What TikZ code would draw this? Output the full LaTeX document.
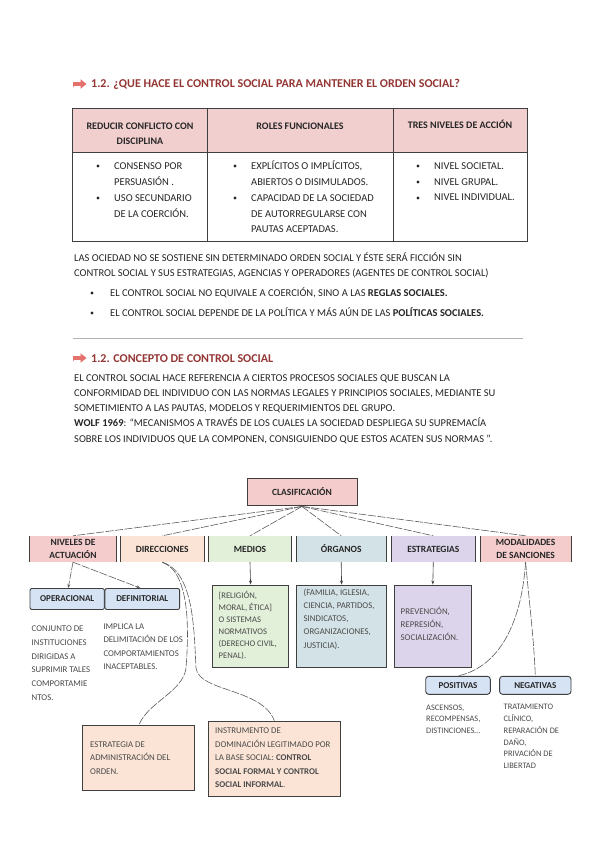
\documentclass[tikz,border=0pt]{standalone}
\usepackage{fontspec}
\setmainfont{Carlito}
\usetikzlibrary{arrows.meta,shadows}
\definecolor{titlered}{HTML}{943634}
\definecolor{arrowred}{HTML}{E4716C}
\definecolor{hdrpink}{HTML}{F2CFCF}
\definecolor{boxpink}{HTML}{F4CCCC}
\definecolor{peach}{HTML}{FBE4D5}
\definecolor{mint}{HTML}{E2EFD9}
\definecolor{steel}{HTML}{D3E2E6}
\definecolor{lav}{HTML}{DCD4EA}
\definecolor{skyb}{HTML}{D5E3F4}
\definecolor{ink}{HTML}{262626}
\definecolor{soft}{HTML}{4A4A4A}
\definecolor{edge}{HTML}{3F3F3F}
\newcommand\mlines[1]{\begin{tabular}[t]{@{}l@{}}#1\end{tabular}}
\newcommand\clines[1]{\begin{tabular}[t]{@{}c@{}}#1\end{tabular}}
\tikzset{
  txt/.style={anchor=base west, inner sep=0, text=ink},
  body/.style={txt, font=\fontsize{10.5}{15.7}\selectfont},
  small/.style={txt, text=soft, font=\fontsize{8.8}{13.3}\selectfont},
  cat/.style={minimum height=26pt, inner sep=0, font=\bfseries\fontsize{9.5}{12.5}\selectfont, align=center, text=ink},
  subbox/.style={draw=edge, line width=0.9pt, rounded corners=2pt, fill=skyb, minimum height=21pt, inner sep=0, font=\bfseries\fontsize{9}{10}\selectfont, text=ink},
  cbox/.style={draw=edge, line width=0.9pt, inner sep=0, minimum height=82pt},
  lowbox/.style={draw=edge, line width=0.7pt, fill=peach, inner sep=0},
  dlink/.style={draw=edge!85, line width=0.6pt, dash pattern=on 8pt off 1.5pt},
  tipped/.style={-{Stealth[length=4pt,width=3pt]}},
  slink/.style={draw=edge, line width=0.6pt},
  hdr/.style={anchor=base, inner sep=0, text=ink, font=\bfseries\fontsize{10}{15}\selectfont}
}
\begin{document}
\begin{tikzpicture}[x=1pt,y=-1pt]
\useasboundingbox (0,0) rectangle (600,848);
\fill[white] (0,0) rectangle (600,848);

% ---- title 1
\begin{scope}[shift={(73,84)}]
\fill[arrowred] (0,-1.8) -- (7.5,-1.8) -- (7.5,-4.8) -- (13.5,0) -- (7.5,4.8) -- (7.5,1.8) -- (2,1.8) .. controls (1,1.8) and (0,2.6) .. (0,3.6) -- cycle;
\end{scope}
\node[txt, font=\bfseries\fontsize{12}{14}\selectfont, text=titlered] (h1) at (91,88) {1.2. ¿QUE HACE EL CONTROL SOCIAL PARA MANTENER EL ORDEN SOCIAL?};

% ---- table
\fill[hdrpink] (72,108) rectangle (527,152);
\draw[edge, line width=0.8pt] (72,108) rectangle (527,241);
\draw[edge, line width=0.8pt] (72,152) -- (527,152) (207,108) -- (207,241) (393,108) -- (393,241);
\node[hdr] (th1) at (140,129.3) {\clines{REDUCIR CONFLICTO CON\\DISCIPLINA}};
\node[hdr] (th2) at (300,129.3) {ROLES FUNCIONALES};
\node[hdr] (th3) at (460,128.3) {TRES NIVELES DE ACCIÓN};

\foreach \p in {(98,166),(98,198),(235,166),(235,198),(418,166),(418,182),(418,198)}
  \fill[ink] \p circle (1.6pt);
\node[body] (b1) at (114,169.4) {\mlines{CONSENSO POR\\PERSUASIÓN .}};
\node[body] (b2) at (114,201.4) {\mlines{USO SECUNDARIO\\DE LA COERCIÓN.}};
\node[body] (b3) at (251,169.4) {\mlines{EXPLÍCITOS O IMPLÍCITOS,\\ABIERTOS O DISIMULADOS.}};
\node[body] (b4) at (251,201.4) {\mlines{CAPACIDAD DE LA SOCIEDAD\\DE AUTORREGULARSE CON\\PAUTAS ACEPTADAS.}};
\node[body] (b5) at (434,169.4) {\mlines{NIVEL SOCIETAL.\\NIVEL GRUPAL.\\NIVEL INDIVIDUAL.}};

% ---- paragraph 1
\node[body] (p1) at (74,261.4) {LAS OCIEDAD NO SE SOSTIENE SIN DETERMINADO ORDEN SOCIAL Y ÉSTE SERÁ FICCIÓN SIN};
\node[body] (p2) at (74,276.4) {CONTROL SOCIAL Y SUS ESTRATEGIAS, AGENCIAS Y OPERADORES (AGENTES DE CONTROL SOCIAL)};
\fill[ink] (92,293) circle (1.6pt);
\fill[ink] (92,313) circle (1.6pt);
\node[body] (p3) at (110,296.4) {EL CONTROL SOCIAL NO EQUIVALE A COERCIÓN, SINO A LAS \textbf{REGLAS SOCIALES.}};
\node[body] (p4) at (110,316.4) {EL CONTROL SOCIAL DEPENDE DE LA POLÍTICA Y MÁS AÚN DE LAS \textbf{POLÍTICAS SOCIALES.}};

\draw[draw=black!30, line width=0.6pt] (73,338) -- (523,338);

% ---- title 2
\begin{scope}[shift={(73,358)}]
\fill[arrowred] (0,-1.8) -- (7.5,-1.8) -- (7.5,-4.8) -- (13.5,0) -- (7.5,4.8) -- (7.5,1.8) -- (2,1.8) .. controls (1,1.8) and (0,2.6) .. (0,3.6) -- cycle;
\end{scope}
\node[txt, font=\bfseries\fontsize{12}{14}\selectfont, text=titlered] (h2) at (91,362) {1.2. CONCEPTO DE CONTROL SOCIAL};

\node[body] (q1) at (74,381.4) {EL CONTROL SOCIAL HACE REFERENCIA A CIERTOS PROCESOS SOCIALES QUE BUSCAN LA};
\node[body] (q2) at (74,396.4) {CONFORMIDAD DEL INDIVIDUO CON LAS NORMAS LEGALES Y PRINCIPIOS SOCIALES, MEDIANTE SU};
\node[body] (q3) at (74,411.4) {SOMETIMIENTO A LAS PAUTAS, MODELOS Y REQUERIMIENTOS DEL GRUPO.};
\node[body] (q4) at (74,426.9) {\textbf{WOLF 1969}: “MECANISMOS A TRAVÉS DE LOS CUALES LA SOCIEDAD DESPLIEGA SU SUPREMACÍA};
\node[body] (q5) at (74,442.4) {SOBRE LOS INDIVIDUOS QUE LA COMPONEN, CONSIGUIENDO QUE ESTOS ACATEN SUS NORMAS ”.};

% ---- diagram
\node[draw=edge, line width=0.9pt, fill=boxpink, minimum width=110pt, minimum height=27pt, inner sep=0,
      font=\bfseries\fontsize{9.5}{10}\selectfont, text=ink,
      drop shadow={shadow xshift=1pt, shadow yshift=-1pt, fill=black!60, opacity=0.6}] (clas) at (302,491.5) {CLASIFICACIÓN};

\node[cat, fill=boxpink, minimum width=86pt] (niv) at (73,549) {NIVELES DE\\ACTUACIÓN};
\node[cat, fill=peach, minimum width=83.3pt] (dir) at (162.2,549) {DIRECCIONES};
\node[cat, fill=mint, minimum width=83.3pt] (med) at (250,549) {MEDIOS};
\node[cat, fill=steel, minimum width=89.7pt] (org) at (341.2,549) {ÓRGANOS};
\node[cat, fill=lav, minimum width=83.6pt] (est) at (433.3,549) {ESTRATEGIAS};
\node[cat, fill=boxpink, minimum width=90.8pt] (mod) at (525.6,549) {MODALIDADES\\DE SANCIONES};
\foreach \n in {niv,dir,med,org,est,mod}
  \draw[edge, line width=0.9pt] (\n.north west) -- (\n.south west) (\n.north east) -- (\n.south east);
\foreach \n in {niv,dir,med,org,est,mod}
  \draw[dlink] ([yshift=-1pt]clas.south) -- (\n.north);

% niveles
\node[subbox, minimum width=74.4pt] (op) at (67.2,599) {OPERACIONAL};
\node[subbox, minimum width=74.7pt] (def) at (142.3,599) {DEFINITORIAL};
\draw[dlink, tipped] (niv.south) -- ([xshift=1pt]op.north);
\draw[dlink, tipped] (niv.south) -- ([xshift=-2pt]def.north);
\node[small, font=\fontsize{8.8}{13.7}\selectfont] (opt) at (31.5,631.6) {\mlines{CONJUNTO DE\\INSTITUCIONES\\DIRIGIDAS A\\SUPRIMIR TALES\\COMPORTAMIE\\NTOS.}};
\node[small] (deft) at (103.3,629.6) {\mlines{IMPLICA LA\\DELIMITACIÓN DE LOS\\COMPORTAMIENTOS\\INACEPTABLES.}};

% medios, organos, estrategias
\node[cbox, fill=mint, minimum width=75.8pt] (medbox) at (250.6,626) {};
\node[cbox, fill=steel, minimum width=90.4pt] (orgbox) at (341.6,626) {};
\node[cbox, fill=lav, minimum width=76.8pt] (estbox) at (432.8,626) {};
\draw[slink, tipped] (med.south) -- (medbox.north);
\draw[slink, tipped] (org.south) -- (orgbox.north);
\draw[slink, tipped] (est.south) -- (estbox.north);
\node[small, font=\fontsize{8.6}{12}\selectfont] (medt) at (218.5,598.6) {\mlines{[RELIGIÓN,\\MORAL, ÉTICA]\\O SISTEMAS\\NORMATIVOS\\(DERECHO CIVIL,\\PENAL).}};
\node[small, font=\fontsize{8.8}{13.1}\selectfont] (orgt) at (303.5,595.6) {\mlines{(FAMILIA, IGLESIA,\\CIENCIA, PARTIDOS,\\SINDICATOS,\\ORGANIZACIONES,\\JUSTICIA).}};
\node[small, font=\fontsize{8.8}{13}\selectfont] (estt) at (400.5,614.6) {\mlines{PREVENCIÓN,\\REPRESIÓN,\\SOCIALIZACIÓN.}};

% direcciones
\node[lowbox, minimum width=112pt, minimum height=65pt] (estrbox) at (138.8,758) {};
\node[lowbox, minimum width=131.8pt, minimum height=75pt] (instbox) at (274.3,758.5) {};
\draw[dlink] (dir.south) .. controls (190,572) and (189,630) .. (186,668)
  .. controls (183,692) and (148,702) .. (estrbox.north);
\draw[dlink] (dir.south) .. controls (194,572) and (194,630) .. (196,668)
  .. controls (199,692) and (262,688) .. (instbox.north);
\node[small] (estrt) at (90,747.6) {\mlines{ESTRATEGIA DE\\ADMINISTRACIÓN DEL\\ORDEN.}};
\node[small, font=\fontsize{8.8}{13.5}\selectfont] (instt) at (215,733.6) {\mlines{INSTRUMENTO DE\\DOMINACIÓN LEGITIMADO POR\\LA BASE SOCIAL: \textbf{CONTROL}\\\textbf{SOCIAL FORMAL Y CONTROL}\\\textbf{SOCIAL INFORMAL}.}};

% sanciones
\node[subbox, rounded corners=3pt, minimum width=64.6pt, minimum height=18pt] (pos) at (458,685.3) {POSITIVAS};
\node[subbox, rounded corners=3pt, minimum width=71.4pt, minimum height=18pt] (neg) at (535.3,685.3) {NEGATIVAS};
\draw[dlink] (mod.south) .. controls (521,630) and (495,668) .. (pos.north);
\draw[dlink] (mod.south) .. controls (529,600) and (534,640) .. (neg.north);
\node[small, font=\fontsize{8.4}{11.7}\selectfont] (post) at (426,710.2) {\mlines{ASCENSOS,\\RECOMPENSAS,\\DISTINCIONES…}};
\node[small, font=\fontsize{8.4}{11.8}\selectfont] (negt) at (503.5,709.6) {\mlines{TRATAMIENTO\\CLÍNICO,\\REPARACIÓN DE\\DAÑO,\\PRIVACIÓN DE\\LIBERTAD}};
\end{tikzpicture}
\end{document}
